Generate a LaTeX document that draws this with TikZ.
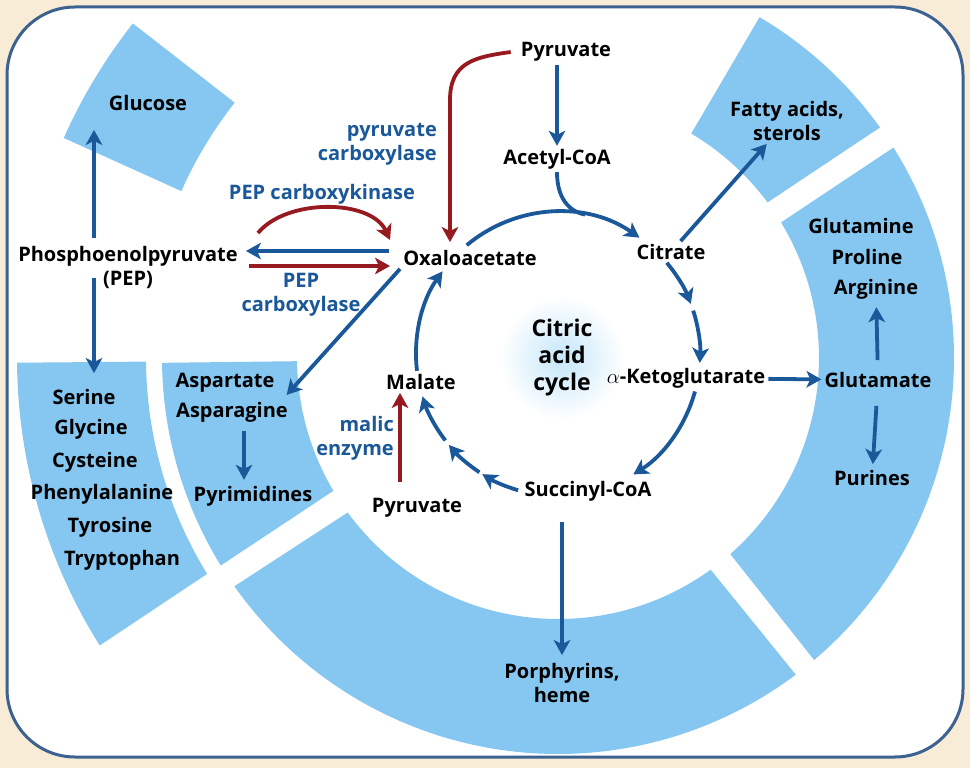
\documentclass[tikz,border=0pt]{standalone}
\usepackage{amsmath}
\usepackage{fontspec}
\setmainfont{Open Sans}
\usepackage{tikz}
\usetikzlibrary{arrows.meta,calc}

\definecolor{bgcol}{RGB}{249,236,214}
\definecolor{framecol}{RGB}{60,98,145}
\definecolor{bandcol}{RGB}{133,199,241}
\definecolor{cycblue}{RGB}{27,88,154}
\definecolor{enzred}{RGB}{150,26,32}
\definecolor{glowcol}{RGB}{196,230,249}

\newcommand{\band}[6]{%
  \fill[bandcol] ($(ctr)+(#1:#5)$) -- ($(ctr)+(#2:#6)$) arc[start angle=#2, end angle=#3, radius=#6]
    -- ($(ctr)+(#4:#5)$) arc[start angle=#4, end angle=#1, radius=#5] -- cycle;}

\begin{document}
\begin{tikzpicture}[x=1pt, y=1pt,
  every node/.style={font=\fontsize{20}{24}\selectfont\bfseries, align=center, inner sep=3pt},
  enz/.style={text=cycblue},
  arr/.style={draw=cycblue, line width=3.8pt, -{Stealth[length=15pt, width=16.5pt, inset=4pt]}},
  redarr/.style={arr, draw=enzred},
  cycline/.style={draw=cycblue, line width=3.8pt}]
  \useasboundingbox (0,0) rectangle (970,-768);
  \fill[bgcol] (0,0) rectangle (970,-768);
  \draw[framecol, line width=3pt, fill=white, rounded corners=68pt] (7,-7) rectangle (963,-757);

  \coordinate (ctr) at (558,-358);
  \coordinate (cyc) at (558,-354);

  \band{141.7}{141.8}{156}{156.1}{412}{541}
  \band{180.5}{180.5}{212.1}{211.6}{412}{541}
  \band{180.7}{180.7}{211.6}{210.6}{261}{396}
  \band{216.3}{215.2}{306.9}{305.8}{261}{396}
  \band{-48.7}{-49.7}{32.1}{31.3}{261}{396}
  \band{36.6}{35.6}{59.4}{59.3}{261}{396}

  \shade[inner color=glowcol, outer color=white] (562,-358) circle (62);

  \node (pyrtop) at (566,-52) {Pyruvate};
  \node (acoa) at (557,-159) {Acetyl-CoA};
  \node (oaa) at (470,-258) {Oxaloacetate};
  \node (cit) at (671,-252) {Citrate};
  \node (akg) at (686,-378) {$\alpha$-Ketoglutarate};
  \node (succ) at (588,-491) {Succinyl-CoA};
  \node (mal) at (421,-382) {Malate};
  \node (pyrbot) at (417,-508) {Pyruvate};
  \node (cac) [font=\fontsize{23}{27}\selectfont\bfseries] at (562,-358) {Citric\\acid\\cycle};
  \node (pep) at (128,-267) {Phosphoenolpyruvate\\(PEP)};
  \node (glc) at (148,-103) {Glucose};
  \node (ser) at (84,-397) {Serine};
  \node (gly) at (91,-429) {Glycine};
  \node (cys) at (95,-462) {Cysteine};
  \node (phe) at (102,-494) {Phenylalanine};
  \node (tyr) at (110,-527) {Tyrosine};
  \node (trp) at (122,-560) {Tryptophan};
  \node (asp) at (225,-383) {Aspartate};
  \node (asn) at (232,-412) {Asparagine};
  \node (pyrim) at (253,-496) {Pyrimidines};
  \node (fatty) at (787,-121) {Fatty acids,\\sterols};
  \node (gln) at (861,-226) {Glutamine};
  \node (pro) at (867,-257) {Proline};
  \node (arg) at (876,-289) {Arginine};
  \node (glu) at (878,-380) {Glutamate};
  \node (pur) at (872,-478) {Purines};
  \node (porph) at (562,-683) {Porphyrins,\\heme};
  \node (pc) [enz, anchor=east, align=right] at (440,-144) {pyruvate\\carboxylase};
  \node (pepck) [enz] at (322,-194) {PEP carboxykinase};
  \node (pepc) [enz] at (301,-295) {PEP\\carboxylase};
  \node (malic) [enz, anchor=east, align=right] at (397,-438) {malic\\enzyme};

  \draw[arr] ($(cyc)+(130:142)$) arc[start angle=130, end angle=55, radius=142];
  \draw[arr] ($(cyc)+(40:142)$) arc[start angle=40, end angle=20.7, radius=142];
  \draw[arr] ($(cyc)+(17.8:142)$) arc[start angle=17.8, end angle=-3.6, radius=142];
  \draw[arr] ($(cyc)+(-15.3:142)$) arc[start angle=-15.3, end angle=-58, radius=142];
  \draw[arr] ($(cyc)+(-106.3:142)$) arc[start angle=-106.3, end angle=-122.2, radius=142];
  \draw[arr] ($(cyc)+(-123.6:142)$) arc[start angle=-123.6, end angle=-140.2, radius=142];
  \draw[arr] ($(cyc)+(-142.5:142)$) arc[start angle=-142.5, end angle=-162.6, radius=142];
  \draw[arr] ($(cyc)+(186.8:142)$) arc[start angle=186.8, end angle=144.4, radius=142];

  \draw[arr] (acoa |- pyrtop.south) -- (acoa.north);
  \draw[cycline] (acoa.south) .. controls +(0,-26) and +(-16,3) .. ($(cyc)+(79:142)$);
  \draw[arr] (cit) -- (fatty);
  \draw[arr] (akg) -- (glu);
  \draw[arr, shorten <=9pt, shorten >=5pt] (glu) -- (arg);
  \draw[arr, shorten <=15pt, shorten >=3pt] (glu) -- (pur);
  \draw[arr, shorten <=18pt, shorten >=5pt] (porph |- succ.south) -- (porph.north);
  \draw[arr, shorten <=5pt, shorten >=16pt] (pep.north -| 94,0) -- (glc.south -| 94,0);
  \draw[arr, shorten <=-13pt, shorten >=13pt] (pep.south -| 94,0) -- (ser.north -| 94,0);
  \draw[arr, shorten <=11pt, shorten >=5pt] ([yshift=7pt]oaa.west) -- ([yshift=16pt]pep.east);
  \draw[redarr, shorten <=8pt, shorten >=10pt] ([yshift=1pt]pep.east) -- ([yshift=-8pt]oaa.west);
  \draw[redarr] ([shift={(17,34)}]pep.east) .. controls +(29,35) and +(-19,41) .. ([shift={(-10,18)}]oaa.west);
  \draw[redarr, shorten >=5pt] ([xshift=-7pt]pyrtop.west) .. controls (475,-57) and (450,-62) .. (450,-100) -- (oaa.north -| 450,0);
  \draw[arr] (oaa.south west) -- ([shift={(9,-12)}]asp.east);
  \draw[arr, shorten <=6pt, shorten >=3pt] (asn.south -| 244,0) -- (pyrim.north -| 244,0);
  \draw[redarr, shorten <=13pt] (pyrbot.north -| 400,0) -- (mal.south -| 400,0);
\end{tikzpicture}
\end{document}
